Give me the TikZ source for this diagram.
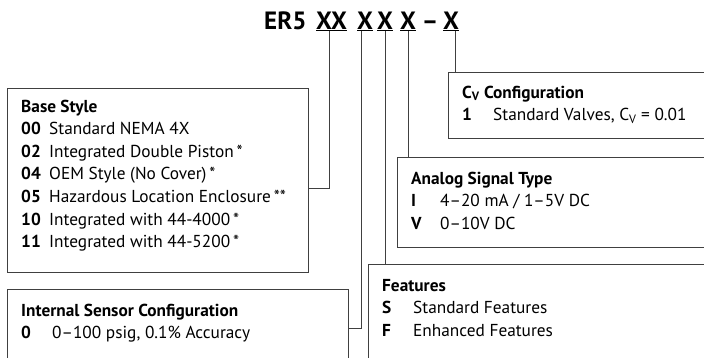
\documentclass[tikz,border=0pt]{standalone}
\usepackage{fontspec}
\setmainfont{PT Sans}
\usepackage{array}
\begin{document}
\begin{tikzpicture}[x=1pt,y=-1pt,
  box/.style={draw=black!75,line width=0.9pt,rectangle,anchor=north west,inner sep=0pt},
  conn/.style={draw=black!75,line width=0.9pt},
  txt/.style={anchor=base west,inner sep=0pt,font=\fontsize{17.3}{22.6}\selectfont},
  ttl/.style={anchor=base,inner sep=0pt,font=\fontsize{25}{30}\selectfont\bfseries}]
\useasboundingbox (0,0) rectangle (704,357);
\clip (0,0) rectangle (704,357);
% title
\node[ttl,anchor=base west] (er5) at (264,29) {ER5};
\node[ttl] (xx) at (331.5,29) {\underline{XX}};
\node[ttl] (xa) at (365,29) {\underline{X}};
\node[ttl] (xb) at (385,29) {\underline{X}};
\node[ttl] (xc) at (408,29) {\underline{X}};
\node[ttl] (dash) at (430,29) {–};
\node[ttl] (xd) at (451,29) {\underline{X}};
% boxes
\node[box,minimum width=301pt,minimum height=184pt] (base) at (7,88) {};
\node[box,minimum width=341pt,minimum height=78pt] (sens) at (7,289) {};
\node[box,minimum width=360pt,minimum height=120pt] (feat) at (368,264) {};
\node[box,minimum width=330pt,minimum height=90pt] (ana) at (397,157) {};
\node[box,minimum width=280pt,minimum height=66pt] (cv) at (448,72) {};
% texts
\node[txt] (tbase) at (21,112) {\begin{tabular}[t]{@{}p{28pt}@{}l@{}}
\multicolumn{2}{@{}l@{}}{\bfseries Base Style}\\
\bfseries 00 & Standard NEMA 4X\\
\bfseries 02 & Integrated Double Piston\,*\\
\bfseries 04 & OEM Style (No Cover)\,*\\
\bfseries 05 & Hazardous Location Enclosure\,**\\
\bfseries 10 & Integrated with 44-4000\,*\\
\bfseries 11 & Integrated with 44-5200\,*
\end{tabular}};
\node[txt] (tsens) at (21,316) {\begin{tabular}[t]{@{}p{31pt}@{}l@{}}
\multicolumn{2}{@{}l@{}}{\bfseries Internal Sensor Configuration}\\
\bfseries 0 & 0–100 psig, 0.1\% Accuracy
\end{tabular}};
\node[txt] (tfeat) at (382,291) {\begin{tabular}[t]{@{}p{31pt}@{}l@{}}
\multicolumn{2}{@{}l@{}}{\bfseries Features}\\
\bfseries S & Standard Features\\
\bfseries F & Enhanced Features
\end{tabular}};
\node[txt] (tana) at (411,184) {\begin{tabular}[t]{@{}p{29pt}@{}l@{}}
\multicolumn{2}{@{}l@{}}{\bfseries Analog Signal Type}\\
\bfseries I & 4–20 mA / 1–5V DC\\
\bfseries V & 0–10V DC
\end{tabular}};
\node[txt] (tcv) at (462,98) {\begin{tabular}[t]{@{}p{31pt}@{}l@{}}
\multicolumn{2}{@{}l@{}}{\bfseries C\textsubscript{V} Configuration}\\
\bfseries 1 & Standard Valves, C\textsubscript{V} = 0.01
\end{tabular}};
% connectors
\draw[conn] ([xshift=-2pt]xx.south) |- ([yshift=-8pt]base.east);
\draw[conn] ([xshift=-4pt]xa.south) |- (sens.east);
\draw[conn] (xb.south) -- (xb.south |- feat.north);
\draw[conn] (xc.south) -- (xc.south |- ana.north);
\draw[conn] ([xshift=4pt]xd.south) -- ([xshift=4pt]xd.south |- cv.north);
\end{tikzpicture}
\end{document}
